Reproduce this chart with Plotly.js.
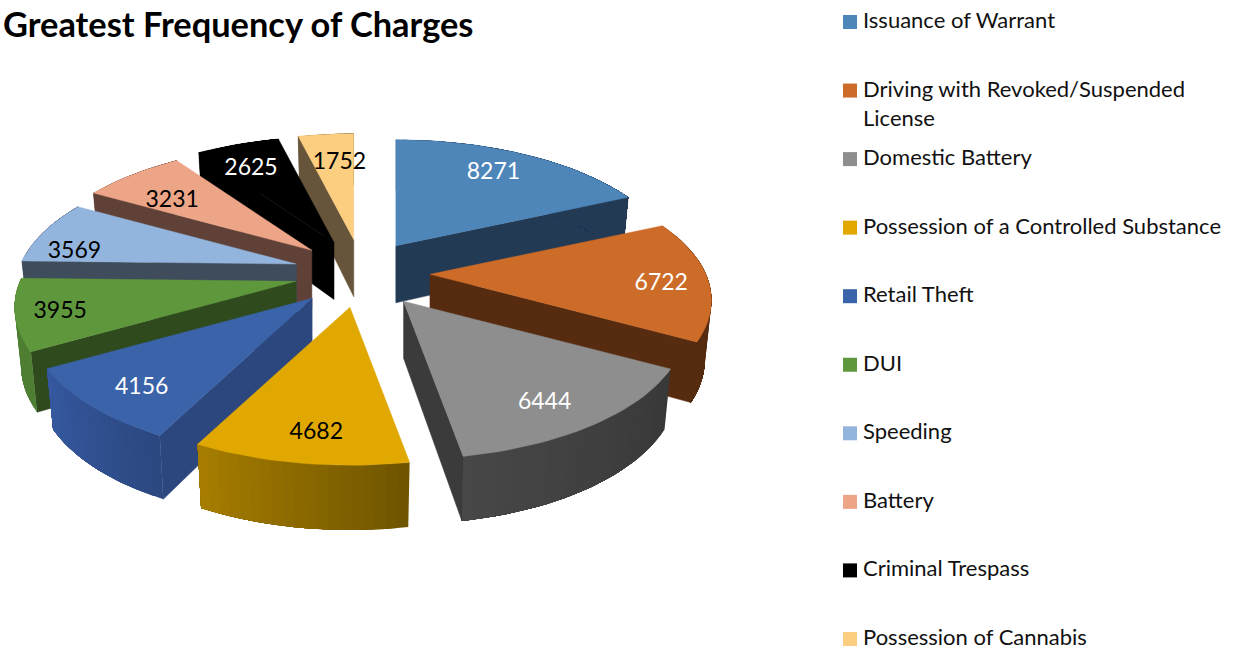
<!DOCTYPE html>
<html>
<head>
<meta charset="utf-8">
<script src="https://cdn.plot.ly/plotly-3.0.1.min.js"></script>
<style>html,body{margin:0;padding:0;background:#fff}#chart{width:1235px;height:647px}</style>
</head>
<body>
<div id="chart"></div>
<script>
// ---- data ----
const chartTitle = "Greatest Frequency of Charges";
const categories = ["Issuance of Warrant","Driving with Revoked/Suspended<br>License","Domestic Battery","Possession of a Controlled Substance","Retail Theft","DUI","Speeding","Battery","Criminal Trespass","Possession of Cannabis"];
const values = [8271,6722,6444,4682,4156,3955,3569,3231,2625,1752];

// ---- styles ----
const topColors = ["#4F86BA","#CD6B28","#8E8E8E","#E0A800","#3A63A9","#5F973C","#93B5DD","#EDA587","#000000","#FBCE80"];
const radialColors = ["#233A55","#562B0F","#3B3B3B","#6E5400","#2C477E","#2F4A1C","#3F4C5C","#5F4137","#000000","#66553A"];
const outerStart = ["#233A55","#562B0F","#383838","#6E5400","#2C4780","#4E7E32","#3F4C5C","#5F4137","#000000","#66553A"];
const outerEnd = ["#233A55","#562B0F","#474747","#A87E00","#3559A0","#4E7E32","#3F4C5C","#5F4137","#000000","#66553A"];
const labelColors = ["#fff","#fff","#fff","#000","#fff","#000","#000","#000","#fff","#000"];
const explodeNudgeX = [-3,0,2,-2,-3,0,0,0,0,0];
const explodeNudgeY = [1,0,1,1,1,0,0,0,0,0];
const labelNudgeX = [-5,9,-12,7,7,-11,-20,4,-6,8];
const labelNudgeY = [1,6,4,1,4,5,14,11,5,8];
const drawOrder = [9,8,7,6,5,0,1,2,4,3];
const FONT = "Lato, Carlito, Calibri, sans-serif";

// ---- projection of the tilted pie ----
const P = {cx:362, cy:273, ex:68, ey:33.5, A:276, B:127, p:0.197, H:57, hp:0.12, inset:0.977, labelR:0.8};
const rad = d => d*Math.PI/180;
const total = values.reduce((a,b)=>a+b,0);
function dir(t){const X=Math.sin(rad(t)),Y=Math.cos(rad(t)),w=1+P.p*Y;return [P.A*X/w,-P.B*Y/w,Y];}
function arcPts(a,b){const n=Math.max(2,Math.ceil((b-a)/2));const o=[];for(let i=0;i<=n;i++)o.push(a+(b-a)*i/n);return o;}
function hex(c){return [1,3,5].map(i=>parseInt(c.substr(i,2),16));}
function mix(c1,c2,f){const a=hex(c1),b=hex(c2);return "rgb("+a.map((v,i)=>Math.round(v+(b[i]-v)*f)).join(",")+")";}
function poly(xs,ys,col,name,w){return {type:"scatter",mode:"lines",x:xs,y:ys,fill:"toself",fillcolor:col,line:{color:col,width:w||0},hoverinfo:"skip",showlegend:false,name:name};}

const traces=[];
let cum=0; const spans=values.map(v=>{const a=cum/total*360;cum+=v;return [a,cum/total*360];});
const tips=spans.map((s,k)=>{const m=rad((s[0]+s[1])/2);return [P.cx+P.ex*Math.sin(m)+explodeNudgeX[k],P.cy-P.ey*Math.cos(m)+explodeNudgeY[k]];});
const topPt=(k,t)=>{const d=dir(t);return [tips[k][0]+d[0],tips[k][1]+d[1]];};
const botPt=(k,t)=>{const d=dir(t);return [tips[k][0]+d[0]*P.inset,tips[k][1]+d[1]+P.H/(1+P.hp*d[2])];};

drawOrder.forEach(k=>{
  const [a,b]=spans[k], nm=categories[k].replace("<br>"," "), tp=tips[k];
  const tb=[tp[0],tp[1]+P.H];
  const mid=topPt(k,(a+b)/2);
  [a,b].forEach(t=>{
    const u=topPt(k,t),v=botPt(k,t);
    const ex=u[0]-tp[0],ey=u[1]-tp[1];
    const c1=ex*(v[1]-tp[1])-ey*(v[0]-tp[0]), c2=ex*(mid[1]-tp[1])-ey*(mid[0]-tp[0]);
    if(c1*c2<0) traces.push(poly([tp[0],u[0],v[0],tb[0],tp[0]],[tp[1],u[1],v[1],tb[1],tp[1]],radialColors[k],nm,0.5));
  });
  const ts=arcPts(a,b), last=ts.length-1;
  // each band runs to the end of the arc and the next band paints over it, so no seams appear
  for(let i=0;i<last;i++){
    const rest=ts.slice(i);
    const tops=rest.map(t=>topPt(k,t)), bots=rest.map(t=>botPt(k,t)).reverse();
    const pts=tops.concat(bots); pts.push(tops[0]);
    traces.push(poly(pts.map(p=>p[0]),pts.map(p=>p[1]),mix(outerStart[k],outerEnd[k],(i+0.5)/last),nm,0));
  }
  const xs=[tp[0]],ys=[tp[1]];
  ts.forEach(t=>{const u=topPt(k,t);xs.push(u[0]);ys.push(u[1]);});
  xs.push(tp[0]);ys.push(tp[1]);
  traces.push(poly(xs,ys,topColors[k],nm,0.4));
});

// value labels
const lx=[],ly=[];
values.forEach((v,k)=>{const m=(spans[k][0]+spans[k][1])/2,d=dir(m);
  lx.push(tips[k][0]+P.labelR*d[0]+labelNudgeX[k]);ly.push(tips[k][1]+P.labelR*d[1]+labelNudgeY[k]);});
traces.push({type:"scatter",mode:"text",x:lx,y:ly,text:values.map(String),textposition:"middle center",
  textfont:{family:FONT,size:23,color:labelColors},hoverinfo:"skip",showlegend:false});

// legend
const legX=850, legY0=22, legStep=68.55;
const legY=categories.map((c,i)=>legY0+i*legStep);
traces.push({type:"scatter",mode:"markers",x:categories.map(()=>legX),y:legY,
  marker:{symbol:"square",size:14,color:topColors,line:{width:0}},hoverinfo:"skip",showlegend:false});
const annotations=categories.map((c,i)=>({x:861,y:legY[i],xref:"x",yref:"y",text:c,showarrow:false,xanchor:"left",yanchor:"top",yshift:18,align:"left",
  font:{family:FONT,size:22,color:"#111"}}));

Plotly.newPlot("chart",traces,{
  width:1235,height:647,margin:{l:0,r:0,t:0,b:0},paper_bgcolor:"#fff",plot_bgcolor:"#fff",showlegend:false,
  title:{text:"<b>"+chartTitle+"</b>",x:3/1235,xanchor:"left",y:1-25/647,yanchor:"middle",font:{family:FONT,size:34.4,color:"#000"}},
  xaxis:{range:[0,1235],visible:false,fixedrange:true},
  yaxis:{range:[647,0],visible:false,fixedrange:true},
  annotations:annotations
},{displayModeBar:false,staticPlot:true});
</script>
</body>
</html>
